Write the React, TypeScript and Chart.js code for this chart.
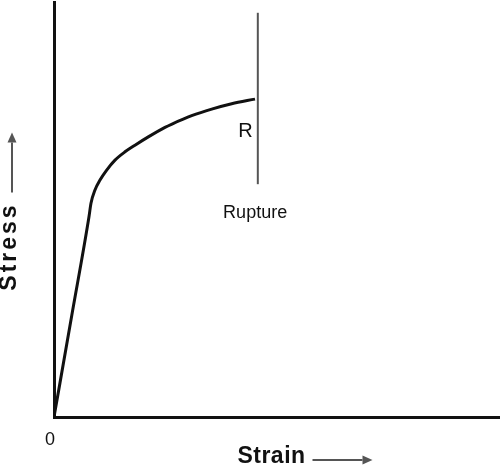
import React, { useEffect, useRef } from "react";
import { Chart, registerables } from "chart.js";

Chart.register(...registerables);

// Stress–strain curve (arbitrary units, 0–100 on both axes)
const strainValues = [0, 4.0, 7.87, 8.31, 9.21, 10.34, 11.84, 13.71, 15.96, 18.2, 21.19, 24.94, 26.52, 30.94, 35.44, 39.93, 45.17];
const stressValues = [0, 24.5, 48.3, 51.5, 54.7, 57.1, 59.5, 61.9, 63.9, 65.5, 67.5, 69.8, 70.6, 72.6, 74.2, 75.5, 76.6];

// Rupture marker line
const ruptureX = [45.8, 45.8];
const ruptureY = [56.1, 97.4];

// Annotation texts placed in data coordinates
const noteTexts = ["R", "Rupture"];
const noteX = [43.0, 45.2];
const noteY = [68.7, 49.2];
const noteSizes = [20, 18];

const xAxisLabel = "Strain";
const yAxisLabel = "Stress";
const originLabel = "0";

const FONT = "'Liberation Sans', Arial, Helvetica, sans-serif";

function drawArrow(ctx: CanvasRenderingContext2D, x1: number, y1: number, x2: number, y2: number) {
  const ang = Math.atan2(y2 - y1, x2 - x1);
  const headLen = 10;
  const headHalf = 4.5;
  ctx.save();
  ctx.strokeStyle = "#555";
  ctx.fillStyle = "#555";
  ctx.lineWidth = 2;
  ctx.beginPath();
  ctx.moveTo(x1, y1);
  ctx.lineTo(x2 - Math.cos(ang) * headLen, y2 - Math.sin(ang) * headLen);
  ctx.stroke();
  ctx.beginPath();
  ctx.moveTo(x2, y2);
  const bx = x2 - Math.cos(ang) * headLen;
  const by = y2 - Math.sin(ang) * headLen;
  ctx.lineTo(bx + Math.sin(ang) * headHalf, by - Math.cos(ang) * headHalf);
  ctx.lineTo(bx - Math.sin(ang) * headHalf, by + Math.cos(ang) * headHalf);
  ctx.closePath();
  ctx.fill();
  ctx.restore();
}

const labelPlugin = {
  id: "labelPlugin",
  afterDraw(chart: any) {
    const ctx: CanvasRenderingContext2D = chart.ctx;
    const { left, right, bottom, top } = chart.chartArea;
    const xs = chart.scales.x;
    const ys = chart.scales.y;
    ctx.save();
    ctx.fillStyle = "#111";
    ctx.textAlign = "center";
    ctx.textBaseline = "middle";
    noteTexts.forEach((t, i) => {
      ctx.font = `${noteSizes[i]}px ${FONT}`;
      ctx.fillText(t, xs.getPixelForValue(noteX[i]), ys.getPixelForValue(noteY[i]));
    });
    // origin label
    ctx.font = `18px ${FONT}`;
    ctx.fillText(originLabel, left - 4, bottom + 23);

    // x axis title + arrow
    const cx = (left + right) / 2;
    ctx.font = `bold 23px ${FONT}`;
    (ctx as any).letterSpacing = "0.5px";
    ctx.fillText(xAxisLabel, cx - 5, bottom + 40);
    (ctx as any).letterSpacing = "0px";
    drawArrow(ctx, cx + 36, bottom + 43, cx + 96, bottom + 43);

    // y axis title + arrow
    const cy = (top + bottom) / 2;
    ctx.save();
    ctx.translate(10, cy + 37);
    ctx.rotate(-Math.PI / 2);
    (ctx as any).letterSpacing = "3px";
    ctx.fillText(yAxisLabel, 0, 0);
    ctx.restore();
    (ctx as any).letterSpacing = "0px";
    drawArrow(ctx, 12, cy - 17, 12, cy - 77);
    ctx.restore();
  },
};

export default function App() {
  const canvasRef = useRef<HTMLCanvasElement | null>(null);

  useEffect(() => {
    document.body.style.margin = "0";
    const canvas = canvasRef.current;
    if (!canvas) return;
    const chart = new Chart(canvas, {
      type: "line",
      data: {
        datasets: [
          {
            data: strainValues.map((x, i) => ({ x, y: stressValues[i] })),
            borderColor: "#111",
            borderWidth: 3,
            pointRadius: 0,
            cubicInterpolationMode: "monotone",
            fill: false,
          },
          {
            data: ruptureX.map((x, i) => ({ x, y: ruptureY[i] })),
            borderColor: "#555",
            borderWidth: 2,
            pointRadius: 0,
            fill: false,
          },
        ],
      },
      options: {
        responsive: false,
        animation: false,
        events: [],
        layout: { padding: { left: 54, right: 1, top: 2, bottom: 50 } },
        plugins: { legend: { display: false }, tooltip: { enabled: false } },
        scales: {
          x: {
            type: "linear",
            min: 0,
            max: 100,
            grid: { display: false, drawTicks: false },
            ticks: { display: false },
            border: { display: true, color: "#111", width: 3 },
          },
          y: {
            type: "linear",
            min: 0,
            max: 100,
            grid: { display: false, drawTicks: false },
            ticks: { display: false },
            border: { display: true, color: "#111", width: 3 },
          },
        },
      },
      plugins: [labelPlugin],
    });
    return () => chart.destroy();
  }, []);

  return (
    <div style={{ position: "fixed", left: 0, top: 0, width: 500, height: 467, background: "#fff" }}>
      <canvas ref={canvasRef} width={500} height={467} />
    </div>
  );
}
